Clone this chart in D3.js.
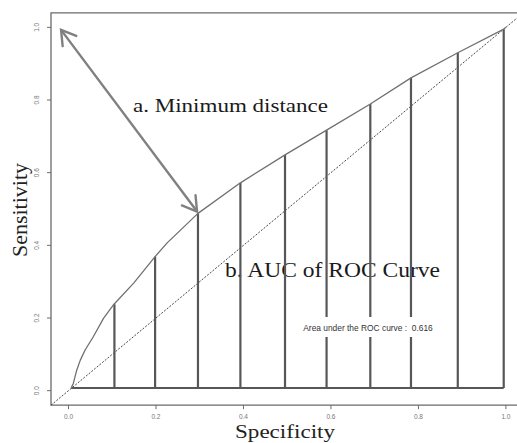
<!DOCTYPE html>
<html>
<head>
<meta charset="utf-8">
<script src="https://cdn.jsdelivr.net/npm/d3@7"></script>
<style>
  html, body { margin: 0; padding: 0; background: #fff; }
  svg { display: block; }
</style>
</head>
<body>
<svg id="chart" width="517" height="443"></svg>
<script>
// ROC curve (specificity axis, sensitivity)
const curveSpec = [0.006, 0.011, 0.019, 0.027, 0.038, 0.057, 0.080, 0.104, 0.149, 0.198, 0.225, 0.296, 0.393, 0.495, 0.590, 0.690, 0.783, 0.890, 0.995, 1.0];
const curveSens = [0.007, 0.020, 0.057, 0.084, 0.112, 0.149, 0.199, 0.238, 0.296, 0.369, 0.406, 0.488, 0.572, 0.649, 0.717, 0.789, 0.861, 0.930, 0.995, 1.0];

// vertical strips under the curve
const barSpec = [0.105, 0.198, 0.296, 0.393, 0.495, 0.590, 0.690, 0.783, 0.890, 0.995];
const barSens = [0.238, 0.369, 0.488, 0.572, 0.649, 0.717, 0.789, 0.861, 0.930, 0.995];
const baseSens = 0.007;

const xTicks = [0, 0.2, 0.4, 0.6, 0.8, 1.0];
const yTicks = [0, 0.2, 0.4, 0.6, 0.8, 1.0];

// minimum distance arrow: from corner (0,1) to the optimal cut point
const arrowFrom = [-0.017, 0.993];
const arrowTo = [0.294, 0.493];

const aucValue = '0.616';

const svg = d3.select('#chart');
const x = d3.scaleLinear().domain([-0.04, 1.04]).range([51, 523.4]);
const y = d3.scaleLinear().domain([-0.04, 1.04]).range([405.2, 12.8]);

const frame = '#6b6b6b';

// arrow marker (open V)
svg.append('defs').append('marker')
  .attr('id', 'vhead')
  .attr('viewBox', '-16 -10 18 20')
  .attr('refX', 0)
  .attr('refY', 0)
  .attr('markerWidth', 18)
  .attr('markerHeight', 20)
  .attr('markerUnits', 'userSpaceOnUse')
  .attr('orient', 'auto-start-reverse')
  .style('overflow', 'visible')
  .append('path')
  .attr('d', 'M-14,-8.5L0,0L-14,8.5')
  .attr('fill', 'none')
  .attr('stroke', '#808080')
  .attr('stroke-width', 2.4)
  .attr('stroke-linecap', 'round');

// frame (left, top, bottom)
svg.append('path')
  .attr('d', `M${x(1.04)},${y(1.04)}H${x(-0.04)}V${y(-0.04)}H${x(1.04)}`)
  .attr('fill', 'none')
  .attr('stroke', frame)
  .attr('stroke-width', 1.3);

// x axis ticks
const xt = svg.append('g').attr('class', 'x-ticks');
xt.selectAll('line').data(xTicks).join('line')
  .attr('x1', d => x(d)).attr('x2', d => x(d))
  .attr('y1', y(-0.04)).attr('y2', y(-0.04) + 4)
  .attr('stroke', frame).attr('stroke-width', 1);
xt.selectAll('text').data(xTicks).join('text')
  .attr('x', d => x(d)).attr('y', 419)
  .attr('text-anchor', 'middle')
  .attr('font-family', 'Liberation Sans, Arial, sans-serif')
  .attr('font-size', 6.5)
  .attr('fill', '#777')
  .text(d => d.toFixed(1));

// y axis ticks
const yt = svg.append('g').attr('class', 'y-ticks');
yt.selectAll('line').data(yTicks).join('line')
  .attr('x1', x(-0.04) - 4).attr('x2', x(-0.04))
  .attr('y1', d => y(d)).attr('y2', d => y(d))
  .attr('stroke', frame).attr('stroke-width', 1);
yt.selectAll('text').data(yTicks).join('text')
  .attr('transform', d => `translate(39,${y(d)}) rotate(-90)`)
  .attr('text-anchor', 'middle')
  .attr('font-family', 'Liberation Sans, Arial, sans-serif')
  .attr('font-size', 6.5)
  .attr('fill', '#777')
  .text(d => d.toFixed(1));

// axis titles
svg.append('text')
  .attr('x', 235).attr('y', 438)
  .attr('font-family', 'Liberation Serif, Times New Roman, serif')
  .attr('font-size', 19)
  .attr('fill', '#222')
  .attr('textLength', 100)
  .attr('lengthAdjust', 'spacingAndGlyphs')
  .text('Specificity');

svg.append('text')
  .attr('transform', 'translate(27,257) rotate(-90)')
  .attr('font-family', 'Liberation Serif, Times New Roman, serif')
  .attr('font-size', 20)
  .attr('fill', '#222')
  .attr('textLength', 94)
  .attr('lengthAdjust', 'spacingAndGlyphs')
  .text('Sensitivity');

// annotation b (under the strips)
svg.append('text')
  .attr('x', 225).attr('y', 276.5)
  .attr('font-family', 'Liberation Serif, Times New Roman, serif')
  .attr('font-size', 20)
  .attr('fill', '#1a1a1a')
  .attr('textLength', 215)
  .attr('lengthAdjust', 'spacingAndGlyphs')
  .text('b. AUC of ROC Curve');

// diagonal reference line
svg.append('line')
  .attr('x1', x(-0.04)).attr('y1', y(-0.04))
  .attr('x2', x(1.04)).attr('y2', y(1.04))
  .attr('stroke', '#333')
  .attr('stroke-width', 0.9)
  .attr('stroke-dasharray', '2,1.5');

// strips
svg.append('g').selectAll('line').data(barSpec).join('line')
  .attr('x1', d => x(d)).attr('x2', d => x(d))
  .attr('y1', y(baseSens))
  .attr('y2', (d, i) => y(barSens[i]))
  .attr('stroke', '#575757')
  .attr('stroke-width', 2.2);

svg.append('line')
  .attr('x1', x(curveSpec[0])).attr('x2', x(barSpec[barSpec.length - 1]))
  .attr('y1', y(baseSens)).attr('y2', y(baseSens))
  .attr('stroke', '#575757')
  .attr('stroke-width', 2);

// ROC curve
const pts = curveSpec.map((s, i) => [s, curveSens[i]]);
svg.append('path')
  .datum(pts)
  .attr('d', d3.line().x(d => x(d[0])).y(d => y(d[1])))
  .attr('fill', 'none')
  .attr('stroke', '#707070')
  .attr('stroke-width', 1.3)
  .attr('stroke-linejoin', 'round');

// AUC label with white box
const aucG = svg.append('g');
const aucRect = aucG.append('rect').attr('fill', '#fff');
const aucText = aucG.append('text')
  .attr('x', 368).attr('y', 331)
  .attr('text-anchor', 'middle')
  .attr('font-family', 'Liberation Sans, Arial, sans-serif')
  .attr('font-size', 8.4)
  .attr('fill', '#333')
  .style('white-space', 'pre')
  .text('Area under the ROC curve :  ' + aucValue);
const bb = aucText.node().getBBox();
aucRect.attr('x', bb.x - 12).attr('y', 317)
  .attr('width', bb.width + 24).attr('height', 20);

// minimum distance arrow
svg.append('line')
  .attr('x1', x(arrowFrom[0])).attr('y1', y(arrowFrom[1]))
  .attr('x2', x(arrowTo[0])).attr('y2', y(arrowTo[1]))
  .attr('stroke', '#808080')
  .attr('stroke-width', 2.4)
  .attr('marker-start', 'url(#vhead)')
  .attr('marker-end', 'url(#vhead)');

svg.append('text')
  .attr('x', 133).attr('y', 112)
  .attr('font-family', 'Liberation Serif, Times New Roman, serif')
  .attr('font-size', 19)
  .attr('fill', '#1a1a1a')
  .attr('textLength', 195)
  .attr('lengthAdjust', 'spacingAndGlyphs')
  .text('a. Minimum distance');
</script>
</body>
</html>
